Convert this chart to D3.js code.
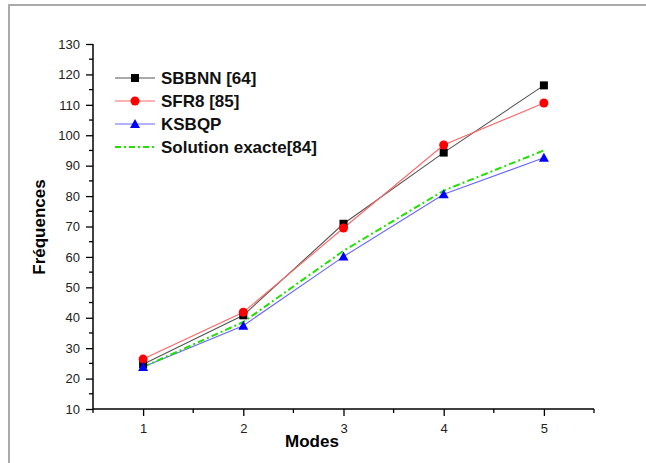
<!DOCTYPE html>
<html><head><meta charset="utf-8">
<script src="https://cdn.jsdelivr.net/npm/d3@7"></script>
<style>body{margin:0;background:#fff}svg{display:block}</style>
</head><body>
<svg id="c" width="646" height="463"></svg>
<script>
const modes = [1, 2, 3, 4, 5];
const sbbnn = [24.7, 40.8, 70.9, 94.3, 116.4];
const sfr8 = [26.4, 41.8, 69.5, 96.8, 110.6];
const ksbqp = [23.8, 37.4, 60.1, 80.6, 92.6];
const exacte = [23.8, 38.6, 62.0, 81.8, 95.0];
const seriesNames = ["SBBNN [64]", "SFR8 [85]", "KSBQP", "Solution exacte[84]"];
const yTicks = [10, 20, 30, 40, 50, 60, 70, 80, 90, 100, 110, 120, 130];
const xTicks = [1, 2, 3, 4, 5];

const svg = d3.select("#c");
const font = "'Liberation Sans', Arial, sans-serif";

// outer frame
svg.append("path").attr("d", "M9,463 V5 H646").attr("fill", "none")
  .attr("stroke", "#aaa").attr("stroke-width", 2);

const x = d3.scaleLinear().domain([0.5, 5.5]).range([93, 594]);
const y = d3.scaleLinear().domain([10, 130]).range([409, 44]);

// minor ticks
const gx = svg.append("g");
const xMinor = d3.range(0.5, 5.51, 0.5).filter(v => !xTicks.includes(v));
gx.selectAll("line.mn").data(xMinor).join("line")
  .attr("x1", d => x(d)).attr("x2", d => x(d)).attr("y1", 409).attr("y2", 413)
  .attr("stroke", "#000").attr("stroke-width", 1.3);
const yMinor = d3.range(15, 130, 10);
gx.selectAll("line.my").data(yMinor).join("line")
  .attr("x1", 89).attr("x2", 93).attr("y1", d => y(d)).attr("y2", d => y(d))
  .attr("stroke", "#000").attr("stroke-width", 1.3);

const xAxis = d3.axisBottom(x).tickValues(xTicks).tickSize(7).tickPadding(8).tickFormat(d3.format("d"));
const yAxis = d3.axisLeft(y).tickValues(yTicks).tickSize(7).tickPadding(6);
svg.append("g").attr("transform", "translate(0,409)").call(xAxis)
  .call(g => g.select(".domain").attr("d", "M93,0H594").attr("stroke-width", 1.5))
  .call(g => g.selectAll(".tick line").attr("stroke-width", 1.3))
  .call(g => g.selectAll("text").attr("font-family", font).attr("font-size", 13).attr("fill", "#222"));
svg.append("g").attr("transform", "translate(93,0)").call(yAxis)
  .call(g => g.select(".domain").attr("d", "M0,44V409").attr("stroke-width", 1.5))
  .call(g => g.selectAll(".tick line").attr("stroke-width", 1.3))
  .call(g => g.selectAll("text").attr("font-family", font).attr("font-size", 13).attr("fill", "#222"));

svg.append("text").attr("x", 312).attr("y", 447).attr("text-anchor", "middle")
  .attr("font-family", font).attr("font-weight", "bold").attr("font-size", 17).text("Modes");
svg.append("text").attr("transform", "translate(45,227) rotate(-90)").attr("text-anchor", "middle")
  .attr("font-family", font).attr("font-weight", "bold").attr("font-size", 17).text("Fréquences");

const series = [
  {name: seriesNames[0], vals: sbbnn, color: "#333", line: "#555", marker: "square"},
  {name: seriesNames[1], vals: sfr8, color: "#ff0000", line: "#ff6666", marker: "circle"},
  {name: seriesNames[2], vals: ksbqp, color: "#0000ff", line: "#6666ff", marker: "triangle"},
  {name: seriesNames[3], vals: exacte, color: "#22e000", line: "#22e000", marker: null, dash: "7,3,2,3"}
];
const line = d3.line().x((d, i) => x(modes[i])).y(d => y(d));

function marker(g, type, cx, cy, color) {
  if (type === "square") g.append("rect").attr("x", cx - 4).attr("y", cy - 4).attr("width", 8).attr("height", 8).attr("fill", "#000");
  else if (type === "circle") g.append("circle").attr("cx", cx).attr("cy", cy).attr("r", 4.5).attr("fill", color);
  else if (type === "triangle") g.append("path").attr("d", `M${cx},${cy - 5}L${cx + 5},${cy + 4}L${cx - 5},${cy + 4}Z`).attr("fill", color);
}

series.forEach(s => {
  svg.append("path").attr("d", line(s.vals)).attr("fill", "none")
    .attr("stroke", s.line).attr("stroke-width", s.dash ? 2 : 1.1)
    .attr("stroke-dasharray", s.dash || null);
});
series.forEach(s => {
  if (!s.marker) return;
  const g = svg.append("g");
  s.vals.forEach((v, i) => marker(g, s.marker, x(modes[i]), y(v), s.color));
});

// legend
const ly = [78, 101, 124, 147];
series.forEach((s, i) => {
  const g = svg.append("g");
  g.append("line").attr("x1", 115).attr("x2", 155).attr("y1", ly[i]).attr("y2", ly[i])
    .attr("stroke", s.line).attr("stroke-width", s.dash ? 2 : 1.1).attr("stroke-dasharray", s.dash ? "6,3,2,3" : null);
  if (s.marker) marker(g, s.marker, 135, ly[i], s.color);
  g.append("text").attr("x", 161).attr("y", ly[i] + 6).attr("font-family", font)
    .attr("font-weight", "bold").attr("font-size", 17).attr("fill", "#111").text(s.name);
});
</script>
</body></html>
